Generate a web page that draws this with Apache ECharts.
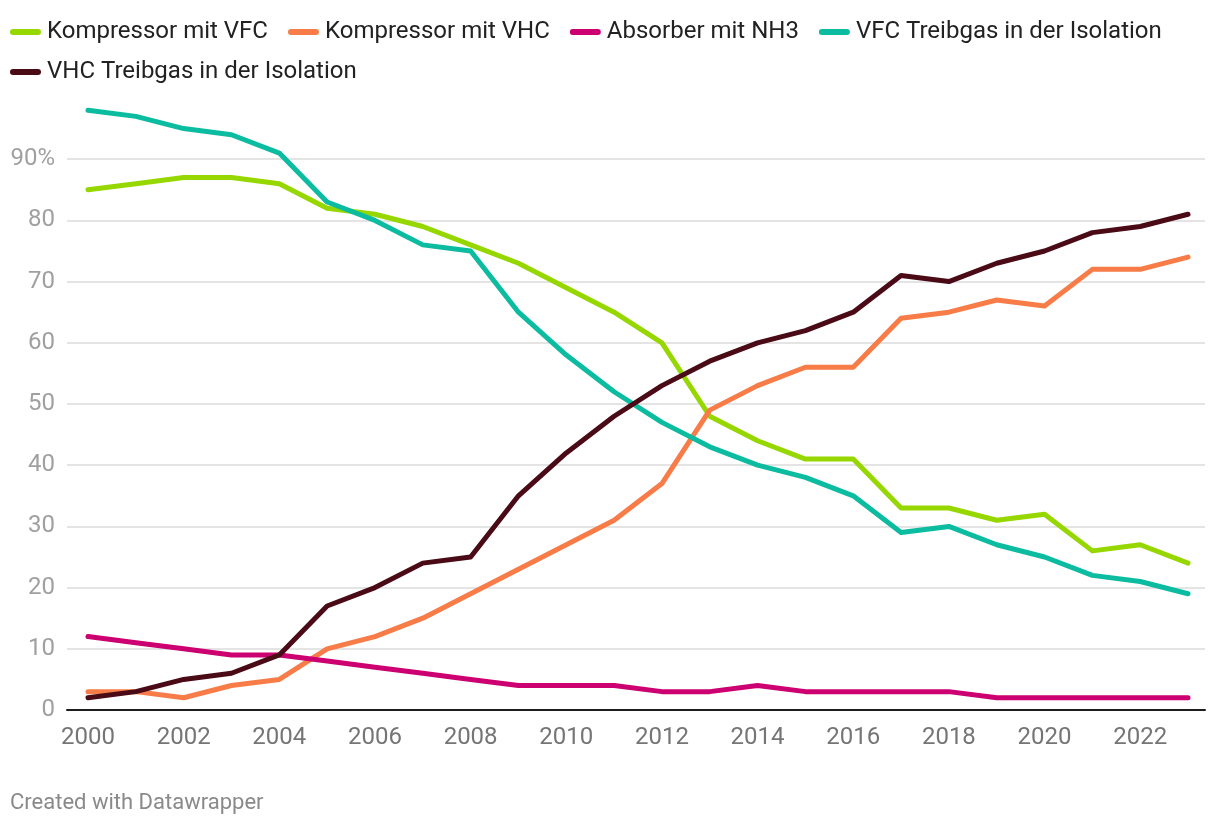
<!DOCTYPE html>
<html>
<head>
<meta charset="utf-8">
<script src="https://cdn.jsdelivr.net/npm/echarts@6/dist/echarts.min.js"></script>
<style>
html,body{margin:0;padding:0;background:#fff;}
#chart{width:1220px;height:826px;}
</style>
</head>
<body>
<div id="chart"></div>
<script>
const years = [2000,2001,2002,2003,2004,2005,2006,2007,2008,2009,2010,2011,2012,2013,2014,2015,2016,2017,2018,2019,2020,2021,2022,2023];
const kompressorVFC = [85,86,87,87,86,82,81,79,76,73,69,65,60,48,44,41,41,33,33,31,32,26,27,24];
const kompressorVHC = [3,3,2,4,5,10,12,15,19,23,27,31,37,49,53,56,56,64,65,67,66,72,72,74];
const absorberNH3 = [12,11,10,9,9,8,7,6,5,4,4,4,3,3,4,3,3,3,3,2,2,2,2,2];
const vfcTreibgas = [98,97,95,94,91,83,80,76,75,65,58,52,47,43,40,38,35,29,30,27,25,22,21,19];
const vhcTreibgas = [2,3,5,6,9,17,20,24,25,35,42,48,53,57,60,62,65,71,70,73,75,78,79,81];
const seriesNames = ['Kompressor mit VFC','Kompressor mit VHC','Absorber mit NH3','VFC Treibgas in der Isolation','VHC Treibgas in der Isolation'];
const xTickValues = [2000,2002,2004,2006,2008,2010,2012,2014,2016,2018,2020,2022];
const yTickValues = [0,10,20,30,40,50,60,70,80,90];
const colors = ['#97d700','#f77c48','#cc0070','#0bbca0','#4a0a16'];

const allValues = [kompressorVFC,kompressorVHC,absorberNH3,vfcTreibgas,vhcTreibgas];
const chart = echarts.init(document.getElementById('chart'), null, {renderer:'canvas'});
const series = allValues.map((vals,i)=>({
  name: seriesNames[i],
  type: 'line',
  data: years.map((y,j)=>[y, vals[j]]),
  showSymbol: false,
  symbol: 'none',
  lineStyle: {width: 5, color: colors[i], cap: 'round', join: 'round'},
  itemStyle: {color: colors[i]},
  emphasis: {disabled: true},
  animation: false
}));

const legendBase = {
  left: 5, width: 1210, orient: 'horizontal',
  itemGap: 20, itemWidth: 31, itemHeight: 6,
  icon: 'path://M3,0 L28,0 A3,3 0 0 1 28,6 L3,6 A3,3 0 0 1 3,0 Z',
  textStyle: {fontSize: 24, color: '#222', fontFamily: 'Roboto', padding: [0,0,0,1]}
};

chart.setOption({
  animation: false,
  textStyle: {fontFamily: 'Roboto'},
  legend: [
    Object.assign({}, legendBase, {top: 15, data: seriesNames.slice(0,4)}),
    Object.assign({}, legendBase, {top: 55, data: seriesNames.slice(4)})
  ],
  grid: {left: 67, right: 15, top: 98, bottom: 116, containLabel: false},
  xAxis: {
    type: 'value', min: 1999.561, max: 2023.355,
    axisLine: {show: true, onZero: true, lineStyle: {color: '#1d1d1d', width: 2}},
    axisTick: {show: false, customValues: xTickValues},
    splitLine: {show: false},
    axisLabel: {customValues: xTickValues, fontSize: 24, color: '#757575', margin: 16, fontFamily: 'Roboto', formatter: v => String(v)}
  },
  yAxis: {
    type: 'value', min: 0, max: 100,
    axisLine: {show: false},
    axisTick: {show: false, customValues: yTickValues},
    splitLine: {show: true, lineStyle: {color: '#e4e4e4', width: 2}},
    axisLabel: {customValues: yTickValues, fontSize: 24, color: '#a0a0a0', margin: 12, fontFamily: 'Roboto',
      formatter: v => v === 90 ? '90%' : String(v)}
  },
  graphic: [{
    type: 'text', left: 10, top: 792,
    style: {text: 'Created with Datawrapper', fontSize: 22, fill: '#8a8a8a', fontFamily: 'Roboto'}
  }],
  series: series
});
</script>
</body>
</html>
